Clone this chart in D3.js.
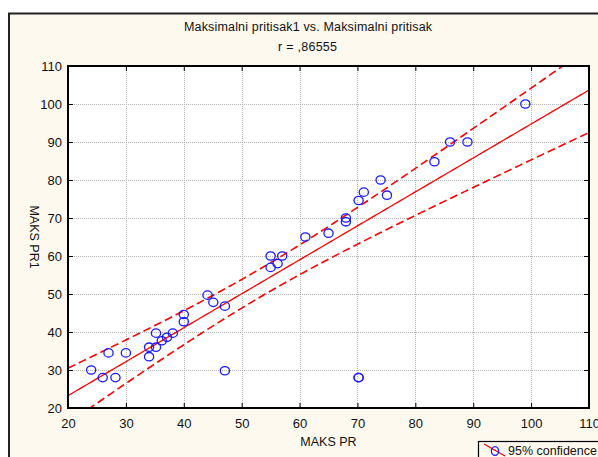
<!DOCTYPE html>
<html>
<head>
<meta charset="utf-8">
<script src="https://cdn.jsdelivr.net/npm/d3@7/dist/d3.min.js"></script>
<style>
  html, body { margin: 0; padding: 0; background: #ffffff; }
  svg { display: block; }
  text { font-family: "Liberation Sans", Arial, sans-serif; fill: #111; }
</style>
</head>
<body>
<svg id="chart" width="598" height="457"></svg>
<script>
// MAKS PR (x) and MAKS PR1 (y) for each subject (two subjects share 70/28)
const maksPR  = [24, 26, 27, 28.2, 30, 34, 34, 35.2, 35.2, 36.2, 37.1, 38.1, 40, 40, 44.1, 45.1, 47.1, 47.1,
                 55, 55, 56.2, 57, 61, 65, 68, 68, 70.2, 71.1, 74, 75.1, 83.3, 86, 89, 99, 70.2, 70.2];
const maksPR1 = [30, 28, 34.5, 28, 34.5, 36, 33.5, 36, 39.7, 37.7, 38.6, 39.7, 42.7, 44.6, 49.7, 47.8, 46.8, 29.8,
                 60, 57, 58, 60, 65, 66, 70, 69, 74.6, 76.8, 80, 76, 84.8, 90, 90, 100, 28, 28];
const xTicks = [20, 30, 40, 50, 60, 70, 80, 90, 100, 110];
const yTicks = [20, 30, 40, 50, 60, 70, 80, 90, 100, 110];
const titleText = "Maksimalni pritisak1 vs. Maksimalni pritisak";
const rText = "r = ,86555";
const xTitle = "MAKS PR";
const yTitle = "MAKS PR1";
const legendText = "95% confidence";
const tCrit = 2.0322; // Student t, 0.975 quantile, df = 34

const svg = d3.select("#chart");
const W = 598, H = 457;
const plot = { left: 68, right: 589, top: 66, bottom: 408 };
const cream = "#fdf9ef";

// window background and outer frame
svg.append("rect").attr("x", 0).attr("y", 0).attr("width", W).attr("height", H).attr("fill", "#ffffff");
svg.append("rect").attr("x", 9).attr("y", 13.5).attr("width", W + 20).attr("height", H + 20)
  .attr("fill", cream).attr("stroke", "#222").attr("stroke-width", 2);

const x = d3.scaleLinear().domain([20, 110]).range([plot.left, plot.right]);
const y = d3.scaleLinear().domain([20, 110]).range([plot.bottom, plot.top]);

svg.append("rect").attr("x", plot.left).attr("y", plot.top)
  .attr("width", plot.right - plot.left).attr("height", plot.bottom - plot.top).attr("fill", "#ffffff");

// dotted grid
const grid = svg.append("g").attr("stroke", "#b4b4b4").attr("stroke-width", 1).attr("stroke-dasharray", "1,1");
grid.selectAll("line.gx").data(xTicks.slice(1, -1)).join("line")
  .attr("x1", d => Math.round(x(d)) + 0.5).attr("x2", d => Math.round(x(d)) + 0.5)
  .attr("y1", plot.top).attr("y2", plot.bottom);
grid.selectAll("line.gy").data(yTicks.slice(1, -1)).join("line")
  .attr("y1", d => Math.round(y(d)) + 0.5).attr("y2", d => Math.round(y(d)) + 0.5)
  .attr("x1", plot.left).attr("x2", plot.right);

// least-squares fit with 95% confidence band for the mean
const n = maksPR.length;
const mx = d3.mean(maksPR), my = d3.mean(maksPR1);
let sxx = 0, sxy = 0;
for (let i = 0; i < n; i++) { sxx += (maksPR[i] - mx) ** 2; sxy += (maksPR[i] - mx) * (maksPR1[i] - my); }
const b = sxy / sxx, a = my - b * mx;
let sse = 0;
for (let i = 0; i < n; i++) sse += (maksPR1[i] - (a + b * maksPR[i])) ** 2;
const se = Math.sqrt(sse / (n - 2));
const xs = d3.range(20, 110.01, 0.5);
const half = v => tCrit * se * Math.sqrt(1 / n + (v - mx) ** 2 / sxx);

svg.append("clipPath").attr("id", "plotClip").append("rect")
  .attr("x", plot.left).attr("y", plot.top).attr("width", plot.right - plot.left).attr("height", plot.bottom - plot.top);
const fitG = svg.append("g").attr("clip-path", "url(#plotClip)");
const line = d3.line().x(d => x(d[0])).y(d => y(d[1]));
fitG.append("path").datum(xs.map(v => [v, a + b * v])).attr("d", line)
  .attr("fill", "none").attr("stroke", "#ff0000").attr("stroke-width", 1.3);
[1, -1].forEach(sgn => {
  fitG.append("path").datum(xs.map(v => [v, a + b * v + sgn * half(v)])).attr("d", line)
    .attr("fill", "none").attr("stroke", "#ff0000").attr("stroke-width", 1.6)
    .attr("stroke-dasharray", "8,4");
});

// observations
svg.append("g").selectAll("ellipse").data(maksPR.map((v, i) => [v, maksPR1[i]])).join("ellipse")
  .attr("cx", d => x(d[0])).attr("cy", d => y(d[1])).attr("rx", 4.6).attr("ry", 4.2)
  .attr("fill", "none").attr("stroke", "#1a1aff").attr("stroke-width", 1.3);

// axes with inward ticks
const fontSize = 13;
const axB = svg.append("g").attr("transform", `translate(0,${plot.bottom})`)
  .call(d3.axisBottom(x).tickValues(xTicks).tickSizeInner(-5).tickSizeOuter(0).tickPadding(11));
const axL = svg.append("g").attr("transform", `translate(${plot.left},0)`)
  .call(d3.axisLeft(y).tickValues(yTicks).tickSizeInner(-5).tickSizeOuter(0).tickPadding(6));
const axT = svg.append("g").attr("transform", `translate(0,${plot.top})`)
  .call(d3.axisTop(x).tickValues(xTicks).tickSizeInner(-5).tickSizeOuter(0).tickFormat(""));
const axR = svg.append("g").attr("transform", `translate(${plot.right},0)`)
  .call(d3.axisRight(y).tickValues(yTicks).tickSizeInner(-5).tickSizeOuter(0).tickFormat(""));
[axB, axL, axT, axR].forEach(g => {
  g.select(".domain").remove();
  g.selectAll(".tick line").attr("stroke", "#000").attr("stroke-width", 1);
  g.selectAll("text").attr("font-size", fontSize).attr("font-family", "Liberation Sans, Arial, sans-serif").attr("fill", "#111");
});
svg.append("rect").attr("x", plot.left).attr("y", plot.top)
  .attr("width", plot.right - plot.left).attr("height", plot.bottom - plot.top)
  .attr("fill", "none").attr("stroke", "#000").attr("stroke-width", 2);

// titles
svg.append("text").attr("x", 308).attr("y", 31).attr("text-anchor", "middle")
  .attr("font-size", 12.5).attr("textLength", 248).attr("lengthAdjust", "spacing").text(titleText);
svg.append("text").attr("x", 307.5).attr("y", 51).attr("text-anchor", "middle")
  .attr("font-size", 12.5).attr("textLength", 59).attr("lengthAdjust", "spacing").text(rText);
svg.append("text").attr("x", (plot.left + plot.right) / 2).attr("y", 446).attr("text-anchor", "middle")
  .attr("font-size", 12.5).text(xTitle);
svg.append("text").attr("transform", `translate(30,${(plot.top + plot.bottom) / 2}) rotate(90)`)
  .attr("text-anchor", "middle").attr("font-size", 12.5).text(yTitle);

// legend
const lg = svg.append("g");
lg.append("rect").attr("x", 478.5).attr("y", 441.5).attr("width", 150).attr("height", 40)
  .attr("fill", cream).attr("stroke", "#000").attr("stroke-width", 1.2);
lg.append("line").attr("x1", 484).attr("y1", 444).attr("x2", 505).attr("y2", 456)
  .attr("stroke", "#ff0000").attr("stroke-width", 1.3);
lg.append("ellipse").attr("cx", 495).attr("cy", 451).attr("rx", 3.6).attr("ry", 4.4)
  .attr("fill", "none").attr("stroke", "#1a1aff").attr("stroke-width", 1.3);
lg.append("text").attr("x", 508).attr("y", 455).attr("font-size", 12.5).text(legendText);
</script>
</body>
</html>
